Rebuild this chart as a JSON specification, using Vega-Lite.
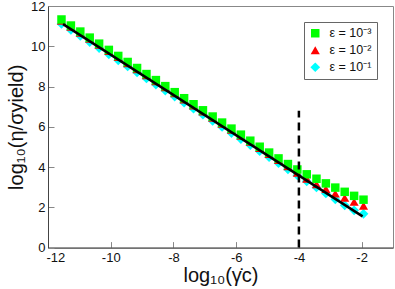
{
  "$schema": "https://vega.github.io/schema/vega-lite/v6.json",
  "width": 345,
  "height": 241.6,
  "autosize": {"type": "none"},
  "padding": {"left": 48, "top": 6, "right": 2, "bottom": 41.4},
  "background": "white",
  "config": {
    "font": "Liberation Sans",
    "view": {"stroke": "#888", "strokeWidth": 1},
    "axis": {
      "grid": false,
      "domainColor": "#444",
      "tickColor": "#888",
      "tickSize": -6,
      "labelFontSize": 13,
      "labelColor": "#111",
      "labelExpr": "'' + datum.value",
      "titleFontSize": 20,
      "titleFontWeight": "normal",
      "titleColor": "#111"
    },
    "legend": {
      "orient": "top-right",
      "offset": 16,
      "strokeColor": "#666",
      "fillColor": "white",
      "padding": 5,
      "labelFontSize": 12.5,
      "labelColor": "#111",
      "symbolSize": 70,
      "rowPadding": 4,
      "labelOffset": 8
    }
  },
  "layer": [
    {
      "data": {
        "values": [
          {"eps": "ε = 10⁻¹", "x": -11.57, "y": 11.11},
          {"eps": "ε = 10⁻¹", "x": -11.27, "y": 10.81},
          {"eps": "ε = 10⁻¹", "x": -10.97, "y": 10.51},
          {"eps": "ε = 10⁻¹", "x": -10.67, "y": 10.21},
          {"eps": "ε = 10⁻¹", "x": -10.37, "y": 9.91},
          {"eps": "ε = 10⁻¹", "x": -10.06, "y": 9.60},
          {"eps": "ε = 10⁻¹", "x": -9.76, "y": 9.30},
          {"eps": "ε = 10⁻¹", "x": -9.46, "y": 9.00},
          {"eps": "ε = 10⁻¹", "x": -9.16, "y": 8.70},
          {"eps": "ε = 10⁻¹", "x": -8.86, "y": 8.40},
          {"eps": "ε = 10⁻¹", "x": -8.56, "y": 8.10},
          {"eps": "ε = 10⁻¹", "x": -8.26, "y": 7.80},
          {"eps": "ε = 10⁻¹", "x": -7.96, "y": 7.50},
          {"eps": "ε = 10⁻¹", "x": -7.66, "y": 7.20},
          {"eps": "ε = 10⁻¹", "x": -7.36, "y": 6.90},
          {"eps": "ε = 10⁻¹", "x": -7.06, "y": 6.60},
          {"eps": "ε = 10⁻¹", "x": -6.75, "y": 6.29},
          {"eps": "ε = 10⁻¹", "x": -6.45, "y": 5.99},
          {"eps": "ε = 10⁻¹", "x": -6.15, "y": 5.69},
          {"eps": "ε = 10⁻¹", "x": -5.85, "y": 5.39},
          {"eps": "ε = 10⁻¹", "x": -5.55, "y": 5.09},
          {"eps": "ε = 10⁻¹", "x": -5.25, "y": 4.79},
          {"eps": "ε = 10⁻¹", "x": -4.95, "y": 4.49},
          {"eps": "ε = 10⁻¹", "x": -4.65, "y": 4.19},
          {"eps": "ε = 10⁻¹", "x": -4.35, "y": 3.89},
          {"eps": "ε = 10⁻¹", "x": -4.05, "y": 3.59},
          {"eps": "ε = 10⁻¹", "x": -3.75, "y": 3.29},
          {"eps": "ε = 10⁻¹", "x": -3.44, "y": 2.99},
          {"eps": "ε = 10⁻¹", "x": -3.14, "y": 2.69},
          {"eps": "ε = 10⁻¹", "x": -2.84, "y": 2.40},
          {"eps": "ε = 10⁻¹", "x": -2.54, "y": 2.10},
          {"eps": "ε = 10⁻¹", "x": -2.24, "y": 1.85},
          {"eps": "ε = 10⁻¹", "x": -1.94, "y": 1.68},
          {"eps": "ε = 10⁻²", "x": -11.57, "y": 11.27},
          {"eps": "ε = 10⁻²", "x": -11.27, "y": 10.97},
          {"eps": "ε = 10⁻²", "x": -10.97, "y": 10.67},
          {"eps": "ε = 10⁻²", "x": -10.67, "y": 10.37},
          {"eps": "ε = 10⁻²", "x": -10.37, "y": 10.07},
          {"eps": "ε = 10⁻²", "x": -10.06, "y": 9.76},
          {"eps": "ε = 10⁻²", "x": -9.76, "y": 9.46},
          {"eps": "ε = 10⁻²", "x": -9.46, "y": 9.16},
          {"eps": "ε = 10⁻²", "x": -9.16, "y": 8.86},
          {"eps": "ε = 10⁻²", "x": -8.86, "y": 8.56},
          {"eps": "ε = 10⁻²", "x": -8.56, "y": 8.26},
          {"eps": "ε = 10⁻²", "x": -8.26, "y": 7.96},
          {"eps": "ε = 10⁻²", "x": -7.96, "y": 7.66},
          {"eps": "ε = 10⁻²", "x": -7.66, "y": 7.36},
          {"eps": "ε = 10⁻²", "x": -7.36, "y": 7.06},
          {"eps": "ε = 10⁻²", "x": -7.06, "y": 6.76},
          {"eps": "ε = 10⁻²", "x": -6.75, "y": 6.45},
          {"eps": "ε = 10⁻²", "x": -6.45, "y": 6.15},
          {"eps": "ε = 10⁻²", "x": -6.15, "y": 5.85},
          {"eps": "ε = 10⁻²", "x": -5.85, "y": 5.55},
          {"eps": "ε = 10⁻²", "x": -5.55, "y": 5.25},
          {"eps": "ε = 10⁻²", "x": -5.25, "y": 4.95},
          {"eps": "ε = 10⁻²", "x": -4.95, "y": 4.65},
          {"eps": "ε = 10⁻²", "x": -4.65, "y": 4.35},
          {"eps": "ε = 10⁻²", "x": -4.35, "y": 4.04},
          {"eps": "ε = 10⁻²", "x": -4.05, "y": 3.72},
          {"eps": "ε = 10⁻²", "x": -3.75, "y": 3.42},
          {"eps": "ε = 10⁻²", "x": -3.44, "y": 3.15},
          {"eps": "ε = 10⁻²", "x": -3.14, "y": 2.91},
          {"eps": "ε = 10⁻²", "x": -2.84, "y": 2.68},
          {"eps": "ε = 10⁻²", "x": -2.54, "y": 2.47},
          {"eps": "ε = 10⁻²", "x": -2.24, "y": 2.27},
          {"eps": "ε = 10⁻²", "x": -1.94, "y": 2.08},
          {"eps": "ε = 10⁻³", "x": -11.57, "y": 11.33},
          {"eps": "ε = 10⁻³", "x": -11.27, "y": 11.03},
          {"eps": "ε = 10⁻³", "x": -10.97, "y": 10.73},
          {"eps": "ε = 10⁻³", "x": -10.67, "y": 10.43},
          {"eps": "ε = 10⁻³", "x": -10.37, "y": 10.13},
          {"eps": "ε = 10⁻³", "x": -10.06, "y": 9.82},
          {"eps": "ε = 10⁻³", "x": -9.76, "y": 9.52},
          {"eps": "ε = 10⁻³", "x": -9.46, "y": 9.22},
          {"eps": "ε = 10⁻³", "x": -9.16, "y": 8.92},
          {"eps": "ε = 10⁻³", "x": -8.86, "y": 8.62},
          {"eps": "ε = 10⁻³", "x": -8.56, "y": 8.32},
          {"eps": "ε = 10⁻³", "x": -8.26, "y": 8.02},
          {"eps": "ε = 10⁻³", "x": -7.96, "y": 7.72},
          {"eps": "ε = 10⁻³", "x": -7.66, "y": 7.42},
          {"eps": "ε = 10⁻³", "x": -7.36, "y": 7.12},
          {"eps": "ε = 10⁻³", "x": -7.06, "y": 6.82},
          {"eps": "ε = 10⁻³", "x": -6.75, "y": 6.51},
          {"eps": "ε = 10⁻³", "x": -6.45, "y": 6.21},
          {"eps": "ε = 10⁻³", "x": -6.15, "y": 5.91},
          {"eps": "ε = 10⁻³", "x": -5.85, "y": 5.61},
          {"eps": "ε = 10⁻³", "x": -5.55, "y": 5.31},
          {"eps": "ε = 10⁻³", "x": -5.25, "y": 5.01},
          {"eps": "ε = 10⁻³", "x": -4.95, "y": 4.72},
          {"eps": "ε = 10⁻³", "x": -4.65, "y": 4.43},
          {"eps": "ε = 10⁻³", "x": -4.35, "y": 4.15},
          {"eps": "ε = 10⁻³", "x": -4.05, "y": 3.88},
          {"eps": "ε = 10⁻³", "x": -3.75, "y": 3.64},
          {"eps": "ε = 10⁻³", "x": -3.44, "y": 3.42},
          {"eps": "ε = 10⁻³", "x": -3.14, "y": 3.19},
          {"eps": "ε = 10⁻³", "x": -2.84, "y": 2.98},
          {"eps": "ε = 10⁻³", "x": -2.54, "y": 2.77},
          {"eps": "ε = 10⁻³", "x": -2.24, "y": 2.57},
          {"eps": "ε = 10⁻³", "x": -1.94, "y": 2.38}
        ]
      },
      "mark": {"type": "point", "filled": true, "opacity": 1},
      "encoding": {
        "x": {
          "field": "x", "type": "quantitative",
          "scale": {"domain": [-12, -1], "nice": false, "zero": false},
          "axis": {"values": [-12, -10, -8, -6, -4, -2], "title": "log₁₀(γ̇c)", "titlePadding": 1, "labelPadding": 10, "labelFlush": true, "labelFlushOffset": 2}
        },
        "y": {
          "field": "y", "type": "quantitative",
          "scale": {"domain": [0, 12], "nice": false},
          "axis": {"values": [0, 2, 4, 6, 8, 10, 12], "title": "log₁₀(η/σyield)", "titlePadding": 4, "labelPadding": 9, "labelFlush": false}
        },
        "color": {
          "field": "eps", "type": "nominal",
          "scale": {"domain": ["ε = 10⁻³", "ε = 10⁻²", "ε = 10⁻¹"], "range": ["#00ff00", "#ff0000", "#00ffff"]},
          "legend": {"title": null}
        },
        "shape": {
          "field": "eps", "type": "nominal",
          "scale": {"domain": ["ε = 10⁻³", "ε = 10⁻²", "ε = 10⁻¹"], "range": ["square", "triangle-up", "diamond"]},
          "legend": {"title": null}
        },
        "size": {
          "field": "eps", "type": "nominal",
          "scale": {"domain": ["ε = 10⁻³", "ε = 10⁻²", "ε = 10⁻¹"], "range": [72, 95, 85]},
          "legend": null
        }
      }
    },
    {
      "data": {"values": [{"x": -11.52, "y": 11.10}, {"x": -1.97, "y": 1.55}]},
      "mark": {"type": "line", "color": "black", "strokeWidth": 2.5},
      "encoding": {
        "x": {"field": "x", "type": "quantitative"},
        "y": {"field": "y", "type": "quantitative"}
      }
    },
    {
      "data": {"values": [{"x": -4, "y": 0, "y2": 6.8}]},
      "mark": {"type": "rule", "color": "black", "strokeWidth": 2.5, "strokeDash": [8, 5]},
      "encoding": {
        "x": {"field": "x", "type": "quantitative"},
        "y": {"field": "y", "type": "quantitative"},
        "y2": {"field": "y2"}
      }
    }
  ]
}
